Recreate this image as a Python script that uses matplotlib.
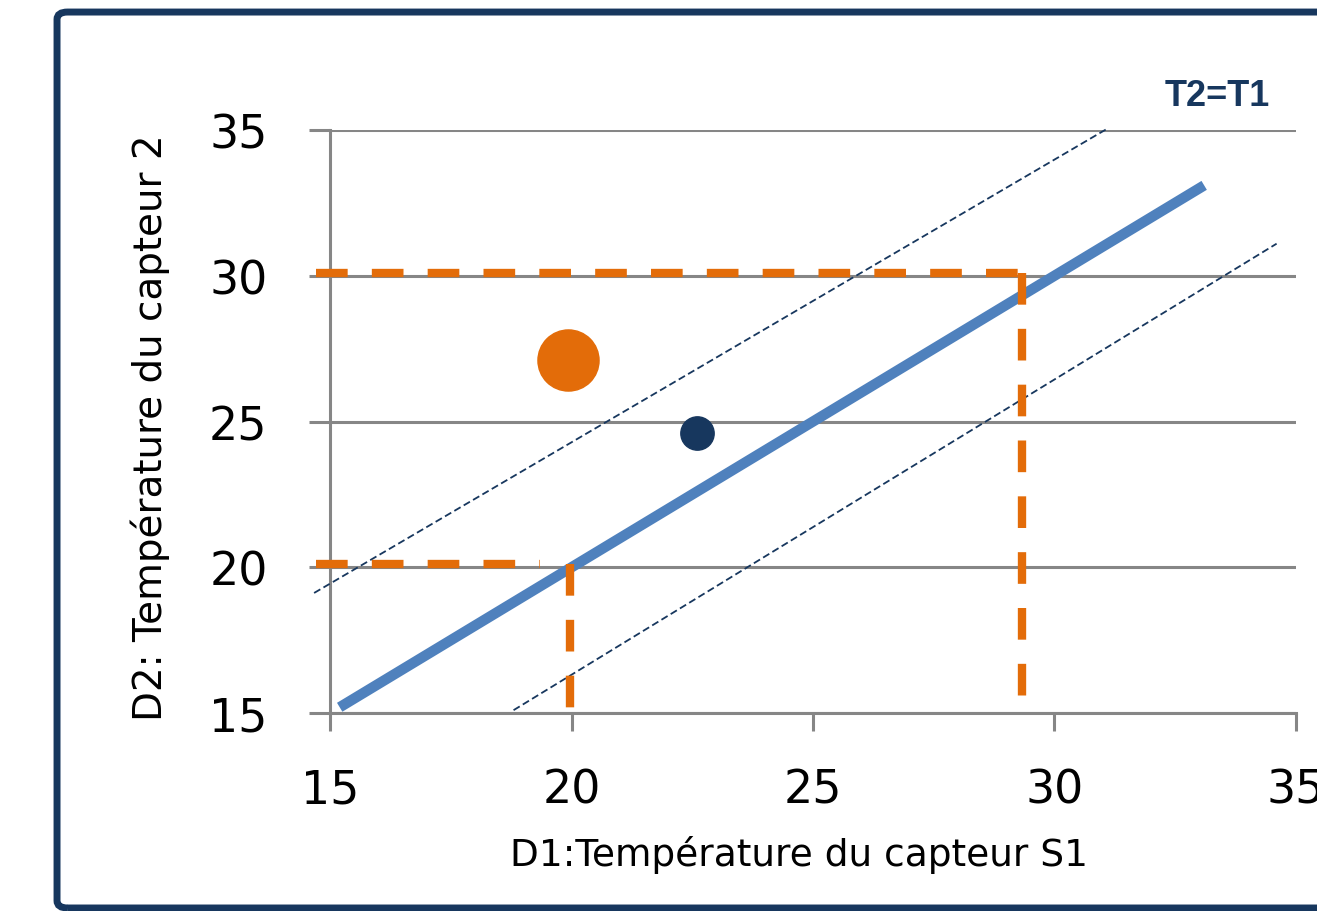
import matplotlib.pyplot as plt
from matplotlib.patches import FancyBboxPatch
import numpy as np

# data
ticks = [15, 20, 25, 30, 35]

diagX = [15.2, 33.1]# T2 = T1 line
diagY = [15.2, 33.1]

upperX = [14.67, 31.1]# tolerance band, upper
upperY = [19.12, 35.05]
lowerX = [18.8, 34.6]# tolerance band, lower
lowerY = [15.1, 31.1]

# orange projection lines
hiHX = [14.7, 29.32]
hiHY = [30.1, 30.1]
hiVX = [29.32, 29.32]
hiVY = [30.1, 15.5]
loHX = [14.7, 19.35]
loHY = [20.1, 20.1]
loVX = [19.97, 19.97]
loVY = [20.1, 15.0]

bigDotX = [19.93]
bigDotY = [27.1]
smallDotX = [22.6]
smallDotY = [24.62]

navy = '#17375E'
orange = '#E36C09'
blue = '#4F81BD'
grey = '#868686'

fig = plt.figure(figsize=(13.17, 9.12), dpi=100)
ax = fig.add_axes([0.2506, 0.217, 0.984 - 0.2506, 0.8564 - 0.217])

ax.set_xlim(15, 35)
ax.set_ylim(15, 35)
ax.set_xticks(ticks)
ax.set_yticks(ticks)

# grid + spines
ax.grid(axis='y', color=grey, linewidth=2.2, zorder=0)
ax.set_axisbelow(True)
for s in ['top', 'right']:
    ax.spines[s].set_visible(False)
for s in ['left', 'bottom']:
    ax.spines[s].set_color(grey)
    ax.spines[s].set_linewidth(2.2)

ax.tick_params(axis='x', length=13, width=2.2, color=grey, pad=26, labelsize=33)
ax.tick_params(axis='y', length=15, width=2.2, color=grey, pad=30, labelsize=33)

# lines
ax.plot(diagX, diagY, color=blue, linewidth=7.5, solid_capstyle='butt', zorder=3)
ax.plot(upperX, upperY, color=navy, linewidth=1.3, dashes=(4, 2), clip_on=False, zorder=3)
ax.plot(lowerX, lowerY, color=navy, linewidth=1.3, dashes=(4, 2), clip_on=False, zorder=3)

for xs, ys in [(hiHX, hiHY), (hiVX, hiVY), (loHX, loHY), (loVX, loVY)]:
    ax.plot(xs, ys, color=orange, linewidth=6, dashes=(3.8, 2.9),
            dash_capstyle='butt', clip_on=False, zorder=4)

# points
ax.plot(bigDotX, bigDotY, 'o', color=orange, markersize=44, zorder=5)
ax.plot(smallDotX, smallDotY, 'o', color=navy, markersize=24, zorder=5)

# labels
fig.text(0.607, 0.062, 'D1:Température du capteur S1', fontsize=27,
         ha='center', va='center')
fig.text(0.114, 0.531, 'D2: Température du capteur 2', fontsize=28,
         rotation=90, ha='center', va='center')
fig.text(0.924, 0.894, 'T2=T1', fontsize=26, fontweight='bold', color=navy,
         family='Liberation Sans', ha='center', va='center')

# frame around the chart
frame = FancyBboxPatch((0.0433, 0.0033), 1.0, 0.9824, boxstyle='round,pad=0,rounding_size=0.008',
                       transform=fig.transFigure, fill=False, edgecolor=navy, linewidth=5)
fig.patches.append(frame)

fig.savefig('out.png', dpi=100)
